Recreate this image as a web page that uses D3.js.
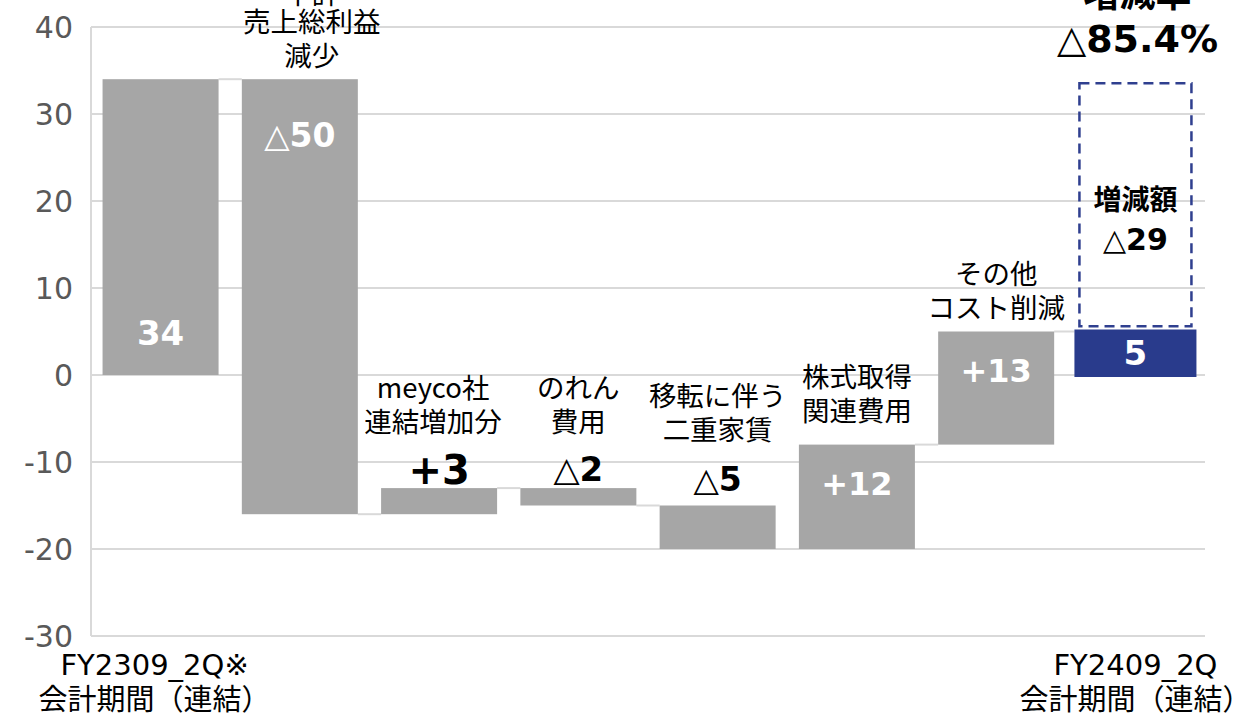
<!DOCTYPE html>
<html><head><meta charset="utf-8">
<script src="https://cdn.jsdelivr.net/npm/d3@7"></script>
<style>
body{margin:0;background:#fff;}
svg{display:block;font-family:'DejaVu Sans','Noto Sans CJK JP',sans-serif;}
</style></head>
<body><svg id="c" width="1258" height="718"></svg>
<script>
// ---- data ----
const categories = ["FY2309_2Q※", "売上総利益減少", "meyco社連結増加分", "のれん費用", "移転に伴う二重家賃", "株式取得関連費用", "その他コスト削減", "FY2409_2Q"];
const categoryLines = [[], ["中計", "売上総利益", "減少"], ["meyco社", "連結増加分"], ["のれん", "費用"], ["移転に伴う", "二重家賃"], ["株式取得", "関連費用"], ["その他", "コスト削減"], []];
const startValue = 34;
const changes = [-50, 3, -2, -5, 12, 13];
const endValue = 5;
const valueLabels = ["34", "△50", "+3", "△2", "△5", "+12", "+13", "5"];
const xLabels = [["FY2309_2Q※", "会計期間（連結）"], ["FY2409_2Q", "会計期間（連結）"]];
const yTicks = [-30, -20, -10, 0, 10, 20, 30, 40];
const diffAmountTitle = "増減額";
const diffAmount = "△29";
const diffRateTitle = "増減率";
const diffRate = "△85.4%";

// ---- build waterfall ----
const bars = [];
bars.push({i: 0, lo: 0, hi: startValue, from: 0, to: startValue, kind: "total"});
let run = startValue;
changes.forEach((c, k) => {
  const nxt = run + c;
  bars.push({i: k + 1, lo: Math.min(run, nxt), hi: Math.max(run, nxt), from: run, to: nxt, kind: "delta"});
  run = nxt;
});
bars.push({i: 7, lo: 0, hi: endValue, from: 0, to: endValue, kind: "final"});

const svg = d3.select("#c");
const x = d3.scaleBand().domain(d3.range(categories.length)).range([91, 1205]).paddingInner(0.167).paddingOuter(0.083);
const y = d3.scaleLinear().domain([-30, 40]).range([636, 27]);

const grid = "#d9d9d9";
svg.append("g").selectAll("line").data(yTicks).join("line")
  .attr("x1", 91).attr("x2", 1205).attr("y1", d => y(d)).attr("y2", d => y(d))
  .attr("stroke", grid).attr("stroke-width", 2);
svg.append("line").attr("x1", 91).attr("x2", 91).attr("y1", y(40)).attr("y2", y(-30)).attr("stroke", grid).attr("stroke-width", 2);

const yAxis = d3.axisLeft(y).tickValues(yTicks).tickFormat(d => String(d)).tickSize(0).tickPadding(0);
const ga = svg.append("g").attr("transform", "translate(73,0)").call(yAxis);
ga.select(".domain").remove();
ga.selectAll("text").attr("font-size", 30).attr("fill", "#595959").attr("font-family", "'DejaVu Sans',sans-serif").attr("dy", "0.36em");

// connectors
const conn = [];
for (let k = 0; k < bars.length - 1; k++) {
  const a = bars[k], b = bars[k + 1];
  conn.push({x1: x(a.i) + x.bandwidth(), x2: x(b.i) - (b.kind === "final" ? 3 : 0), v: a.to});
}
svg.append("g").selectAll("line").data(conn).join("line")
  .attr("x1", d => d.x1).attr("x2", d => d.x2).attr("y1", d => y(d.v)).attr("y2", d => y(d.v))
  .attr("stroke", grid).attr("stroke-width", 2);

// bars
svg.append("g").selectAll("rect").data(bars).join("rect")
  .attr("x", d => x(d.i) - (d.kind === "final" ? 3 : 0))
  .attr("width", d => x.bandwidth() + (d.kind === "final" ? 6 : 0))
  .attr("y", d => y(d.hi) - (d.kind === "final" ? 2 : 0))
  .attr("height", d => y(d.lo) - y(d.hi) + (d.kind === "final" ? 4 : 0))
  .attr("fill", d => d.kind === "final" ? "#293b8c" : "#a6a6a6");

// dashed box (difference)
const bx = x(7);
svg.append("rect").attr("x", bx + 2).attr("width", x.bandwidth() - 4)
  .attr("y", y(startValue) + 4).attr("height", y(endValue + 0.6) - y(startValue) - 4)
  .attr("fill", "none").attr("stroke", "#2f3f8f").attr("stroke-width", 2.5).attr("stroke-dasharray", "10,6");

function valText(g, cx, cy, txt, size, color) {
  const t = g.append("text").attr("x", cx).attr("y", cy).attr("text-anchor", "middle").attr("dy", "0.36em")
    .attr("font-size", size).attr("fill", color);
  if (txt.startsWith("△")) {
    t.append("tspan").attr("font-weight", "normal").text("△");
    t.append("tspan").attr("font-weight", "bold").text(txt.slice(1));
  } else {
    t.append("tspan").attr("font-weight", "bold").text(txt);
  }
  return t;
}

const lg = svg.append("g");
bars.forEach((b, k) => {
  const cx = x(b.i) + x.bandwidth() / 2;
  const top = y(b.hi), bot = y(b.lo);
  let cy, color, size = 32;
  if (k === 0) { cy = bot - 42; color = "#fff"; size = 34; }
  else if (k === 1) { cy = top + 56; color = "#fff"; size = 33; }
  else if (k === 2) { cy = top - 19; color = "#000"; size = 40; }
  else if (k === 3) { cy = top - 19; color = "#000"; size = 34; }
  else if (k === 4) { cy = top - 26; color = "#000"; size = 33; }
  else if (k === 7) { cy = (top + bot) / 2; color = "#fff"; size = 34; }
  else { cy = top + 39; color = "#fff"; }
  valText(lg, cx, cy, valueLabels[k], size, color);

  const lines = categoryLines[k];
  if (lines.length) {
    let lastCy, dx = 0;
    if (k === 2 || k === 3) lastCy = top - 66;
    else if (k === 4) lastCy = top - 75;
    else if (k === 5) lastCy = top - 34;
    else lastCy = top - 23;
    if (k === 1) dx = 12;
    if (k === 2) dx = -6;
    lines.forEach((ln, j) => {
      const extra = (k === 1 && j === 0) ? 6 : 0;
      lg.append("text").attr("x", cx + dx).attr("y", lastCy - (lines.length - 1 - j) * 34 + extra)
        .attr("dy", "0.36em").attr("text-anchor", "middle").attr("font-size", 27.5).attr("fill", "#000")
        .attr("font-family", "'Noto Sans CJK JP','DejaVu Sans',sans-serif").text(ln);
    });
  }
});

const fx = x(7) + x.bandwidth() / 2;
lg.append("text").attr("x", fx).attr("y", 200).attr("dy", "0.36em").attr("text-anchor", "middle")
  .attr("font-size", 28).attr("font-weight", "bold").attr("font-family", "'Noto Sans CJK JP',sans-serif").text(diffAmountTitle);
valText(lg, fx, 239, diffAmount, 30, "#000");
lg.append("text").attr("x", fx + 2).attr("y", -6).attr("dy", "0.36em").attr("text-anchor", "middle")
  .attr("font-size", 36).attr("font-weight", "bold").attr("font-family", "'Noto Sans CJK JP',sans-serif").text(diffRateTitle);
valText(lg, fx + 2, 38, diffRate, 38, "#000");

[[0, xLabels[0]], [7, xLabels[1]]].forEach(([i, ls]) => {
  const cx = x(i) + x.bandwidth() / 2 + (i === 0 ? -6 : 0);
  ls.forEach((ln, j) => {
    lg.append("text").attr("x", cx).attr("y", 665 + j * 35).attr("dy", "0.36em").attr("text-anchor", "middle")
      .attr("font-size", 29).attr("fill", "#000").text(ln);
  });
});
</script></body></html>
